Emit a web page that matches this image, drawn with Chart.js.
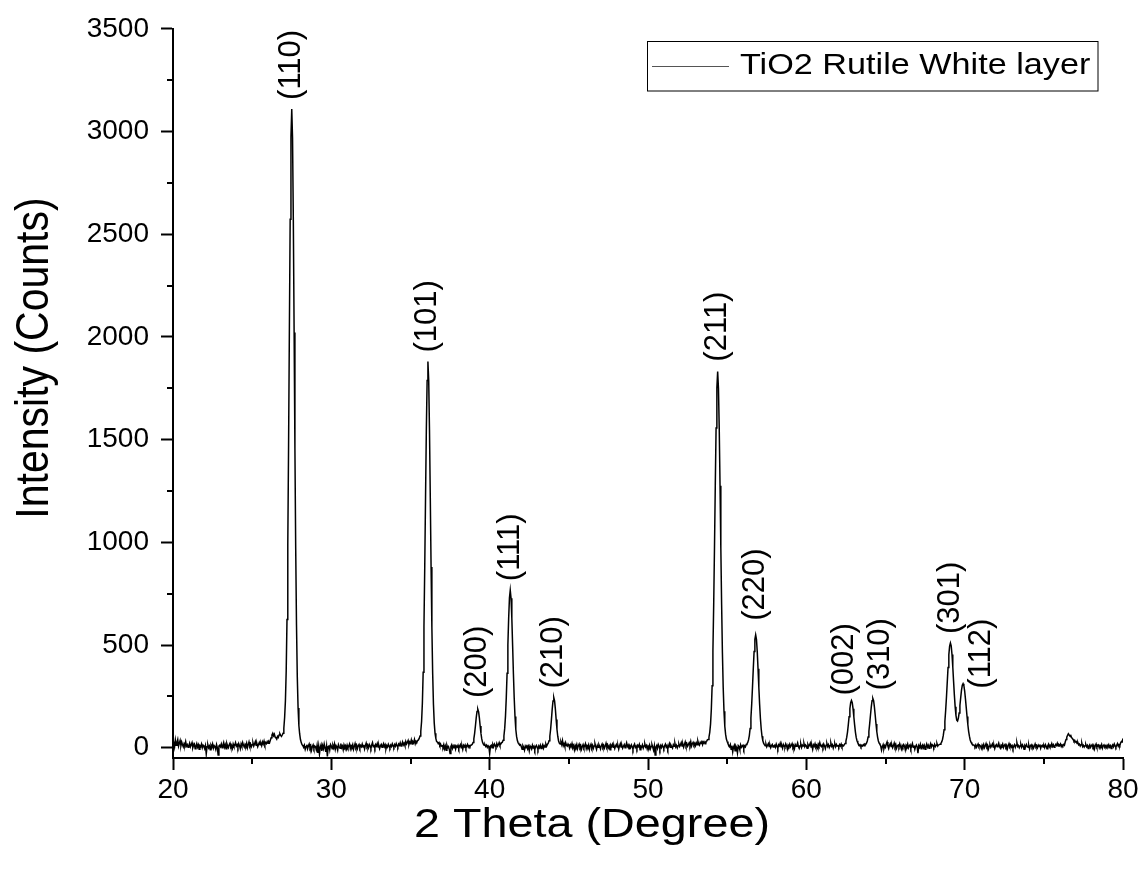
<!DOCTYPE html>
<html><head><meta charset="utf-8">
<script src="https://cdn.jsdelivr.net/npm/chart.js@4.4.0/dist/chart.umd.min.js"></script>
<style>html,body{margin:0;padding:0;background:#fff;}canvas{display:block;}</style>
</head><body>
<canvas id="c" width="1146" height="869"></canvas>
<script>
const thetaStart = 20;
const thetaStep = 0.05;
const counts = [
18,30,5,38,12,25,40,8,22,35,10,28,15,5,20,12,30,8,15,2,
10,22,5,15,25,0,12,18,-5,8,20,3,14,-8,10,5,18,0,12,6,
-5,10,-30,5,15,0,8,-10,12,3,18,-2,10,5,-8,15,0,-35,8,12,
5,18,0,12,25,3,15,-5,20,8,0,14,22,5,10,-3,18,7,12,25,
8,15,2,20,10,-5,18,6,25,12,3,16,8,22,0,14,28,10,18,5,
15,24,8,18,30,12,20,5,16,26,14,22,10,28,18,32,15,25,20,30,
22,30,25,38,48,62,70,58,66,52,48,42,55,50,62,68,60,55,62,70,
95,147,228,375,624,990,1474,2033,2573,2974,3110,2970,2565,2021,1458,969,598,345,194,108,
67,40,25,15,10,2,12,-8,5,15,-5,8,18,0,10,-12,5,14,-3,8,
5,-10,12,-25,8,-30,3,15,-15,10,-5,18,0,-20,8,-42,5,12,-10,15,
8,-5,12,0,18,-8,10,3,-12,15,5,-3,20,0,8,-10,14,2,10,-6,
12,0,8,18,-5,10,3,15,-8,6,20,2,12,-4,9,16,0,11,5,18,
3,14,-6,10,22,5,12,0,16,8,-3,13,25,6,10,-2,15,8,20,4,
12,-4,9,16,2,11,20,5,14,-6,10,3,17,8,0,13,6,19,9,2,
15,7,20,10,3,18,12,24,8,16,28,14,22,10,30,18,26,35,15,28,
22,38,18,30,25,40,20,32,28,35,38,45,57,80,128,217,367,589,882,1219,
1545,1788,1880,1788,1545,1218,880,586,363,210,120,70,45,30,28,20,25,12,18,8,
10,2,15,-5,8,-12,12,0,5,-8,-28,6,14,-3,9,0,16,-6,8,3,
12,-4,7,15,0,9,-8,11,4,13,-2,8,16,3,10,5,12,13,17,26,
43,70,106,145,176,188,176,145,106,70,43,26,17,12,15,6,12,2,10,4,
-28,8,12,0,15,5,18,10,3,20,8,15,25,12,18,24,27,37,57,94,
155,245,363,500,632,730,767,728,630,497,360,242,152,90,55,35,24,18,12,15,
5,-8,10,2,-12,8,0,14,-5,6,-15,9,3,-6,12,0,7,-10,4,11,
2,-9,8,0,12,-4,6,15,-2,10,4,18,8,16,22,34,56,90,137,188,
228,244,228,188,137,90,56,34,22,18,28,15,35,10,20,5,24,12,8,18,
10,-2,14,5,20,0,8,-10,12,3,16,-5,9,18,2,11,-7,6,15,0,
8,19,-4,10,3,14,-9,7,17,1,12,-3,9,20,5,-8,11,2,15,6,
-6,10,18,3,12,-2,8,22,5,14,0,9,-10,13,6,17,2,10,-4,8,
16,4,11,-7,9,20,3,12,-2,7,15,0,10,24,6,13,-5,9,2,14,
5,-8,10,18,1,8,-4,12,6,16,-10,7,3,14,-2,9,19,4,11,-6,
8,0,13,-5,6,15,2,-12,9,-35,4,11,-3,16,7,-8,10,1,14,5,
-4,9,17,3,11,-6,8,20,2,13,5,-2,15,7,22,4,12,-1,10,18,
6,14,25,9,18,3,16,28,10,20,7,15,24,12,30,8,19,26,14,22,
10,24,15,32,18,12,26,20,35,16,28,22,30,25,31,38,40,51,75,115,
187,302,471,701,978,1279,1556,1752,1831,1750,1552,1275,973,696,463,292,177,105,66,42,
30,20,12,5,15,-8,10,-20,3,12,-15,8,0,-25,10,5,-10,14,2,8,
12,-5,9,4,16,19,26,38,59,94,145,213,296,386,469,528,550,528,468,384,
294,211,142,91,56,35,22,15,10,18,4,12,20,6,14,0,10,16,3,9,
12,2,18,7,-4,14,9,22,5,11,-2,16,8,3,19,10,-6,13,6,17,
4,11,20,2,9,-5,15,7,12,24,6,-3,10,18,1,13,8,21,5,14,
9,-2,16,6,12,22,3,10,-8,14,7,19,4,11,0,17,8,25,10,5,
13,2,18,9,-4,12,20,6,15,1,10,23,7,14,-2,11,19,5,16,8,
10,3,15,8,18,5,12,9,15,21,32,50,76,111,151,190,219,230,219,190,
151,111,76,50,34,24,18,10,14,5,12,8,15,10,18,16,22,33,52,79,
116,158,198,229,240,229,198,158,116,79,52,33,22,16,8,-12,5,15,-5,10,
2,18,28,8,-4,12,20,6,14,0,10,22,5,16,-2,9,13,4,19,7,
-6,11,3,15,8,-10,12,5,18,0,9,14,-4,7,20,2,11,-8,6,13,
4,-26,10,2,16,-5,8,14,0,11,-7,6,18,3,12,-3,9,20,5,15,
10,2,16,6,12,20,8,14,15,17,21,28,40,60,88,128,182,246,318,390,
452,495,510,496,454,393,323,256,199,157,134,130,143,169,206,244,280,304,312,302,
276,238,195,152,113,80,56,38,27,20,16,13,12,5,14,2,10,18,6,12,
8,-3,12,4,16,0,9,20,5,11,-6,7,14,2,10,18,3,12,-4,9,
15,5,11,22,6,-2,13,8,18,1,10,16,4,12,-5,9,20,7,14,3,
10,-4,8,15,2,12,24,6,11,0,9,17,3,14,7,-8,10,4,16,8,
2,12,-6,9,14,3,11,-2,7,18,5,10,0,13,6,16,-3,9,12,4,
11,1,15,7,-5,10,18,4,12,8,20,6,14,2,9,16,11,22,8,15,
10,18,6,14,9,16,12,28,40,52,60,68,62,58,60,50,45,40,32,36,
28,30,20,25,14,18,8,15,22,6,12,3,10,16,5,11,-4,8,14,2,
9,15,4,12,-6,10,18,3,8,13,0,11,6,16,-2,9,14,5,10,1,
12,6,15,3,10,-4,8,14,5,18,9,2,12,20,7,15,10,24,30,28,
45
];
const xMajorTicks = [20, 30, 40, 50, 60, 70, 80];
const xMinorTicks = [25, 35, 45, 55, 65, 75];
const yMajorTicks = [0, 500, 1000, 1500, 2000, 2500, 3000, 3500];
const yMinorTicks = [250, 750, 1250, 1750, 2250, 2750, 3250];
const peakLabels = ['(110)', '(101)', '(200)', '(111)', '(210)', '(211)', '(220)', '(002)', '(310)', '(301)', '(112)'];
const peakTheta = [27.50, 36.10, 39.25, 41.30, 44.05, 54.40, 56.80, 62.85, 64.20, 69.10, 69.90];
const peakCounts = [3110, 1880, 188, 767, 244, 1831, 550, 230, 240, 510, 312];
const seriesName = 'TiO2 Rutile White layer';
const xTitle = '2 Theta (Degree)';
const yTitle = 'Intensity (Counts)';

// pixel offsets of peak labels (style only)
const labelOffset = [[0,-9],[0,-9],[0,-11],[0,-9],[0,-9],[0,-10],[0,-14],[-7,-5],[8,-8],[0,-9],[18,5]];

const FONT = '"Liberation Sans", Arial, Helvetica, sans-serif';
const STRETCH = 1.14; // horizontal text stretch of the reference
Chart.defaults.font.family = FONT;
Chart.defaults.color = '#000';

const points = counts.map((c, i) => ({ x: +(thetaStart + i * thetaStep).toFixed(2), y: c }));

const overlay = {
  id: 'overlay',
  afterDraw(chart) {
    const ctx = chart.ctx, xs = chart.scales.x, ys = chart.scales.y, a = chart.chartArea;
    ctx.save();
    ctx.strokeStyle = '#000';
    ctx.lineWidth = 2;
    ctx.beginPath();
    xMinorTicks.forEach(v => { const p = Math.round(xs.getPixelForValue(v)); ctx.moveTo(p, a.bottom); ctx.lineTo(p, a.bottom + 6); });
    yMinorTicks.forEach(v => { const p = Math.round(ys.getPixelForValue(v)); ctx.moveTo(a.left, p); ctx.lineTo(a.left - 6, p); });
    ctx.stroke();

    ctx.fillStyle = '#000';
    ctx.font = '31px ' + FONT;
    ctx.textAlign = 'left';
    ctx.textBaseline = 'middle';
    peakLabels.forEach((t, i) => {
      const x = xs.getPixelForValue(peakTheta[i]) + labelOffset[i][0];
      const y = ys.getPixelForValue(peakCounts[i]) + labelOffset[i][1];
      ctx.save();
      ctx.translate(x, y);
      ctx.rotate(-Math.PI / 2);
      ctx.fillText(t, 0, 0);
      ctx.restore();
    });

    // axis titles
    ctx.font = '41px ' + FONT;
    ctx.textAlign = 'center';
    ctx.textBaseline = 'middle';
    ctx.save();
    ctx.translate(592, 826);
    ctx.scale(STRETCH, 1);
    ctx.fillText(xTitle, 0, 0);
    ctx.restore();
    ctx.save();
    ctx.translate(35, 358);
    ctx.scale(STRETCH, 1);
    ctx.rotate(-Math.PI / 2);
    ctx.fillText(yTitle, 0, 0);
    ctx.restore();

    // legend box
    const bx = 647.5, by = 41.5, bw = 450.5, bh = 49.5;
    ctx.lineWidth = 1;
    ctx.strokeStyle = '#000';
    ctx.strokeRect(bx, by, bw, bh);
    ctx.strokeStyle = '#555';
    ctx.beginPath();
    ctx.moveTo(652, 66.5);
    ctx.lineTo(729, 66.5);
    ctx.stroke();
    ctx.font = '30px ' + FONT;
    ctx.textAlign = 'left';
    ctx.textBaseline = 'alphabetic';
    ctx.save();
    ctx.translate(740, 74);
    ctx.scale(STRETCH, 1);
    ctx.fillText(seriesName, 0, 0);
    ctx.restore();
    ctx.restore();
  }
};

new Chart(document.getElementById('c'), {
  type: 'line',
  data: { datasets: [{ label: seriesName, data: points, borderColor: '#000', borderWidth: 1.5, pointRadius: 0, tension: 0, fill: false }] },
  options: {
    responsive: false,
    animation: false,
    devicePixelRatio: 1,
    layout: { padding: { left: 0, right: 23, top: 22, bottom: 0 } },
    plugins: { legend: { display: false }, tooltip: { enabled: false } },
    scales: {
      x: {
        type: 'linear', min: 20, max: 80,
        afterBuildTicks: s => { s.ticks = xMajorTicks.map(v => ({ value: v })); },
        afterFit: s => { s.height = 111; },
        ticks: { font: { size: 28 }, color: '#000', padding: 3, maxRotation: 0, autoSkip: false, callback: v => String(v) },
        grid: { drawOnChartArea: false, drawTicks: true, tickLength: 12, tickWidth: 2, color: '#000' },
        border: { display: true, color: '#000', width: 2 },
        title: { display: false, text: xTitle }
      },
      y: {
        type: 'linear', min: -50, max: 3500,
        afterBuildTicks: s => { s.ticks = yMajorTicks.map(v => ({ value: v })); },
        afterFit: s => { s.width = 173; },
        ticks: { font: { size: 28 }, color: '#000', padding: 12, autoSkip: false, callback: v => String(v) },
        grid: { drawOnChartArea: false, drawTicks: true, tickLength: 12, tickWidth: 2, color: '#000' },
        border: { display: true, color: '#000', width: 2 },
        title: { display: false, text: yTitle }
      }
    }
  },
  plugins: [overlay]
});
</script>
</body></html>
